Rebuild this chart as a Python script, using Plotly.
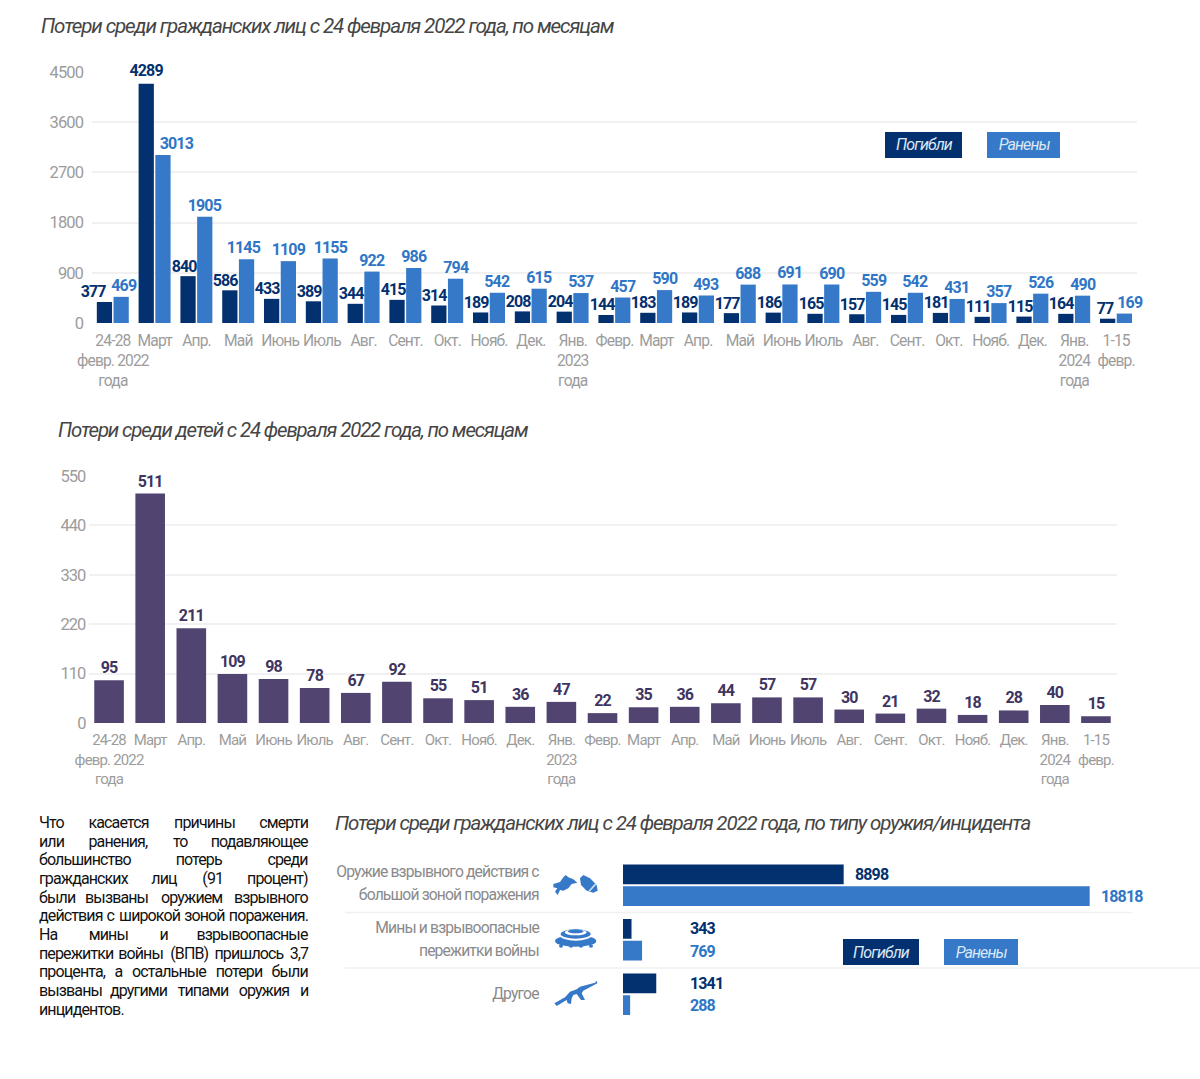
import plotly.graph_objects as go

W, H = 1200, 1079
ROBOTO = "Roboto, sans-serif"
DARK, LIGHT, PURPLE = "#03306f", "#3579c8", "#524470"
DARK_TXT, LIGHT_TXT, PURPLE_TXT = "#03306f", "#2f76c6", "#40355f"
GREY, TITLE, GRID = "#9c9c9c", "#454545", "#f1f1f1"

# ---------- data ----------
title_all = "Потери среди гражданских лиц с 24 февраля 2022 года, по месяцам"
title_kids = "Потери среди детей с 24 февраля 2022 года, по месяцам"
title_weapon = "Потери среди гражданских лиц с 24 февраля 2022 года, по типу оружия/инцидента"
months_all = ["24-28<br>февр. 2022<br>года", "Март", "Апр.", "Май", "Июнь", "Июль", "Авг.", "Сент.", "Окт.",
              "Нояб.", "Дек.", "Янв.<br>2023<br>года", "Февр.", "Март", "Апр.", "Май", "Июнь", "Июль", "Авг.",
              "Сент.", "Окт.", "Нояб.", "Дек.", "Янв.<br>2024<br>года", "1-15<br>февр."]
killed = [377, 4289, 840, 586, 433, 389, 344, 415, 314, 189, 208, 204, 144, 183, 189, 177, 186, 165, 157, 145,
          181, 111, 115, 164, 77]
injured = [469, 3013, 1905, 1145, 1109, 1155, 922, 986, 794, 542, 615, 537, 457, 590, 493, 688, 691, 690, 559,
           542, 431, 357, 526, 490, 169]
children = [95, 511, 211, 109, 98, 78, 67, 92, 55, 51, 36, 47, 22, 35, 36, 44, 57, 57, 30, 21, 32, 18, 28, 40, 15]
weapon_types = ["Оружие взрывного действия с<br>большой зоной поражения",
                "Мины и взрывоопасные<br>пережитки войны", "Другое"]
weapon_killed = [8898, 343, 1341]
weapon_injured = [18818, 769, 288]
ticks_all = [0, 900, 1800, 2700, 3600, 4500]
ticks_kids = [0, 110, 220, 330, 440, 550]
legend_names = ["Погибли", "Ранены"]
paragraph = [
    "Что касается причины смерти", "или ранения, то подавляющее", "большинство потерь среди",
    "гражданских лиц (91 процент)", "были вызваны оружием взрывного", "действия с широкой зоной поражения.",
    "На мины и взрывоопасные", "пережитки войны (ВПВ) пришлось 3,7", "процента, а остальные потери были",
    "вызваны другими типами оружия и", "инцидентов.",
]

SPACING = -0.055  # em; Roboto tightened to stand in for the reference's condensed face


# ---------- helpers ----------
def px(x):
    return x / W


def py(y):
    return 1 - y / H


def dom_x(a, b):
    return [px(a), px(b)]


def dom_y(top, bottom):
    return [py(bottom), py(top)]


annotations, shapes = [], []


def note(x, y, text, size, color, anchor="left", bold=False, italic=False):
    t = text
    if bold:
        t = f"<b>{t}</b>"
    if italic:
        t = f"<i>{t}</i>"
    pad = {"left": -2, "right": 2, "center": 0}[anchor]
    annotations.append(dict(xref="paper", yref="paper", x=px(x + pad), y=py(y), text=t, showarrow=False,
                            xanchor=anchor, yanchor="middle", align=anchor,
                            font=dict(family=ROBOTO, size=size, color=color)))


def rect(x0, y0, x1, y1, color):
    shapes.append(dict(type="rect", xref="paper", yref="paper", x0=px(x0), x1=px(x1), y0=py(y1), y1=py(y0),
                       fillcolor=color, line=dict(width=0), layer="above"))


def hline(x0, x1, y):
    shapes.append(dict(type="line", xref="paper", yref="paper", x0=px(x0), x1=px(x1), y0=py(y), y1=py(y),
                       line=dict(color="#f0f0f0", width=1.5), layer="below"))


def icon(points, color=LIGHT):
    # icon outlines are traced in a 3x crop whose origin is at (545, 860)
    path = "M " + " L ".join(f"{px(545 + a / 3):.5f},{py(860 + b / 3):.5f}" for a, b in points) + " Z"
    shapes.append(dict(type="path", xref="paper", yref="paper", path=path, fillcolor=color,
                       line=dict(width=0), layer="above"))


def oval(cx, cy, rx, ry, color):
    x, y = 545 + cx / 3, 860 + cy / 3
    rx, ry = rx / 3, ry / 3
    shapes.append(dict(type="circle", xref="paper", yref="paper", x0=px(x - rx), x1=px(x + rx),
                       y0=py(y + ry), y1=py(y - ry), fillcolor=color, line=dict(width=0), layer="above"))


def legend_boxes(x1, x2, y0, y1, w1, w2):
    rect(x1, y0, x1 + w1, y1, DARK)
    rect(x2, y0, x2 + w2, y1, LIGHT)
    note(x1 + w1 / 2, (y0 + y1) / 2, legend_names[0], 16, "#dbe7f5", "center", italic=True)
    note(x2 + w2 / 2, (y0 + y1) / 2, legend_names[1], 16, "#dbe7f5", "center", italic=True)


def text_font(color, size=16):
    return dict(family=ROBOTO, size=size, color=color)


def word_width(word, size):
    wide, thin = "шщжмюыфШЩЖМЮЫФ", ".,;:"
    total = 0.0
    for ch in word:
        if ch in wide:
            total += 0.74
        elif ch in thin:
            total += 0.22
        elif ch in "()":
            total += 0.32
        elif ch.isupper():
            total += 0.66
        elif ch in "гтсзкэ":
            total += 0.49
        else:
            total += 0.55
        total += SPACING
    return total * size


fig = go.Figure()

# ---------- monthly civilians ----------
positions = list(range(len(killed)))
BAR_W, DARK_OFF, LIGHT_OFF = 0.365, -0.385, 0.015
fig.add_bar(x=positions, y=killed, width=BAR_W, offset=DARK_OFF, marker_color=DARK, name=legend_names[0],
            xaxis="x", yaxis="y")
fig.add_bar(x=positions, y=injured, width=BAR_W, offset=LIGHT_OFF, marker_color=LIGHT, name=legend_names[1],
            xaxis="x", yaxis="y")

# the reference pushes the dark labels left of their bars so that both labels of a month fit
dark_nudge = {377: -7, 4289: 8, 77: -3}
light_nudge = {469: 3, 3013: 14, 1145: -3, 169: 6}
for i, (k, w) in enumerate(zip(killed, injured)):
    annotations.append(dict(xref="x", yref="y", x=i, y=k, xshift=2 + dark_nudge.get(k, 0),
                            yshift=13 if k == 4289 else 10, text=f"<b>{k}</b>", showarrow=False,
                            xanchor="right", yanchor="middle", align="right", font=text_font(DARK_TXT)))
    annotations.append(dict(xref="x", yref="y", x=i + LIGHT_OFF + BAR_W / 2, y=w, xshift=light_nudge.get(w, 0),
                            yshift=11.5, text=f"<b>{w}</b>", showarrow=False,
                            xanchor="center", yanchor="middle", align="center", font=text_font(LIGHT_TXT)))

# ---------- monthly children ----------
fig.add_bar(x=positions, y=children, width=0.72, marker_color=PURPLE, name="Дети",
            text=[f"<b>{v}</b>" for v in children], textposition="outside",
            textfont=text_font(PURPLE_TXT), textangle=0, constraintext="none", cliponaxis=False,
            xaxis="x2", yaxis="y2")

# ---------- weapon type ----------
rows = list(range(len(weapon_types)))
fig.add_bar(y=rows, x=weapon_killed, orientation="h", width=0.36, offset=-0.385, marker_color=DARK,
            name=legend_names[0], xaxis="x3", yaxis="y3", showlegend=False)
fig.add_bar(y=rows, x=weapon_injured, orientation="h", width=0.36, offset=0.015, marker_color=LIGHT,
            name=legend_names[1], xaxis="x3", yaxis="y3", showlegend=False)
for values, color, shift in ((weapon_killed, DARK_TXT, -11.5), (weapon_injured, LIGHT_TXT, 11)):
    for row, v in zip(rows, values):
        annotations.append(dict(xref="x3", yref="y3", x=max(v, 2260), y=row, yshift=-shift, xshift=9,
                                text=f"<b>{v}</b>", showarrow=False, xanchor="left", yanchor="middle",
                                align="left", font=text_font(color)))

# row labels, one annotation per line to keep the reference's wider leading
for row, label in zip(rows, weapon_types):
    lines = label.split("<br>")
    for k, line in enumerate(lines):
        shift = (k - (len(lines) - 1) / 2) * 23 - (3 if row == 0 else 1)
        annotations.append(dict(xref="paper", yref="y3", x=px(540.5), y=row, yshift=-shift,
                                text=line, showarrow=False, xanchor="right", yanchor="middle", align="right",
                                font=dict(family=ROBOTO, size=15.7, color="#8a8a8a")))

# ---------- titles ----------
note(41, 26, title_all, 20.6, TITLE, italic=True)
note(58, 430, title_kids, 20.4, TITLE, italic=True)
note(335, 823, title_weapon, 20.5, TITLE, italic=True)

# ---------- legends ----------
legend_boxes(885, 987, 132, 158, 77, 73)
legend_boxes(843, 944, 939, 965, 76, 74)

# ---------- row separators ----------
hline(345, 1132, 912.5)
hline(345, 1200, 968)

# ---------- icons ----------
icon([(25, 72), (45, 66), (55, 52), (62, 45), (70, 52), (85, 58), (97, 68), (80, 72), (70, 85), (55, 92),
      (45, 90), (38, 105), (30, 95), (37, 85), (25, 82)])
icon([(105, 55), (115, 45), (135, 55), (155, 75), (158, 92), (145, 98), (125, 92), (108, 75)])
icon([(130, 93), (134, 95), (156, 71), (152, 68)], "#d5e3f5")
oval(92, 243, 62, 17, LIGHT)
oval(92, 226, 48, 16, "#ffffff")
oval(92, 222, 45, 14, LIGHT)
oval(92, 217, 33, 9, "#ffffff")
oval(92, 214, 24, 6, LIGHT)
for knob in (48, 78, 108, 138):
    oval(knob, 258, 6, 5, LIGHT)
icon([(28, 430), (60, 412), (75, 395), (95, 388), (105, 380), (150, 368), (155, 362), (157, 370), (115, 392),
      (110, 400), (120, 420), (108, 420), (95, 402), (85, 405), (80, 415), (78, 432), (68, 430), (65, 420),
      (35, 438)])

# ---------- justified paragraph ----------
P_LEFT, P_RIGHT, P_TOP, P_STEP, P_SIZE = 38.5, 308, 822.5, 18.68, 16
for i, line in enumerate(paragraph):
    y = P_TOP + i * P_STEP
    words = line.split()
    if i == len(paragraph) - 1:
        note(P_LEFT, y, line, P_SIZE, "#111111")
        continue
    widths = [word_width(w, P_SIZE) for w in words]
    gap = (P_RIGHT - P_LEFT - sum(widths)) / (len(words) - 1)
    cursor = P_LEFT
    for j, (word, w) in enumerate(zip(words, widths)):
        if j == 0:
            note(P_LEFT, y, word, P_SIZE, "#111111")
        elif j == len(words) - 1:
            note(P_RIGHT, y, word, P_SIZE, "#111111", "right")
        else:
            note(cursor + w / 2, y, word, P_SIZE, "#111111", "center")
        cursor += w + gap

grey_ytick = dict(family=ROBOTO, size=16.5, color=GREY)
fig.update_layout(
    template="none",
    width=W, height=H, autosize=False, margin=dict(l=0, r=0, t=0, b=0, pad=0),
    paper_bgcolor="white", plot_bgcolor="white", showlegend=False, barmode="overlay",
    font=dict(family=ROBOTO), annotations=annotations, shapes=shapes,
    xaxis=dict(domain=dom_x(92, 1137), anchor="y", range=[-0.5, 24.5], tickmode="array", tickvals=positions,
               ticktext=months_all, tickfont=dict(family=ROBOTO, size=15.6, color=GREY), tickangle=0,
               showgrid=False, zeroline=False, showline=False, ticks="", ticklabelstandoff=6, automargin=False),
    yaxis=dict(domain=dom_y(72, 323), anchor="x", range=[0, 4500], tickmode="array", tickvals=ticks_all,
               tickfont=grey_ytick, showgrid=True, gridcolor=GRID, gridwidth=1.5, zeroline=False,
               showline=False, ticks="", ticklabelstandoff=8, automargin=False),
    xaxis2=dict(domain=dom_x(88.5, 1116.5), anchor="y2", range=[-0.5, 24.5], tickmode="array",
                tickvals=positions, ticktext=months_all, tickfont=dict(family=ROBOTO, size=15, color=GREY),
                tickangle=0, showgrid=False, zeroline=False, showline=False, ticks="", ticklabelstandoff=6,
                automargin=False),
    yaxis2=dict(domain=dom_y(476, 723), anchor="x2", range=[0, 550], tickmode="array", tickvals=ticks_kids,
                tickfont=grey_ytick, showgrid=True, gridcolor=GRID, gridwidth=1.5, zeroline=False,
                showline=False, ticks="", ticklabelstandoff=2, automargin=False),
    xaxis3=dict(domain=dom_x(623, 1119), anchor="y3", range=[0, 20000], visible=False),
    yaxis3=dict(domain=dom_y(858.25, 1021.75), anchor="x3", range=[2.5, -0.5], visible=False),
)

post = ("document.body.style.margin='0';document.body.style.overflow='hidden';"
        "var s=document.createElement('style');"
        f"s.textContent='svg text{{letter-spacing:{SPACING}em}}';document.head.appendChild(s);")
fig.write_html("out.html", post_script=post, config={"displayModeBar": False})
